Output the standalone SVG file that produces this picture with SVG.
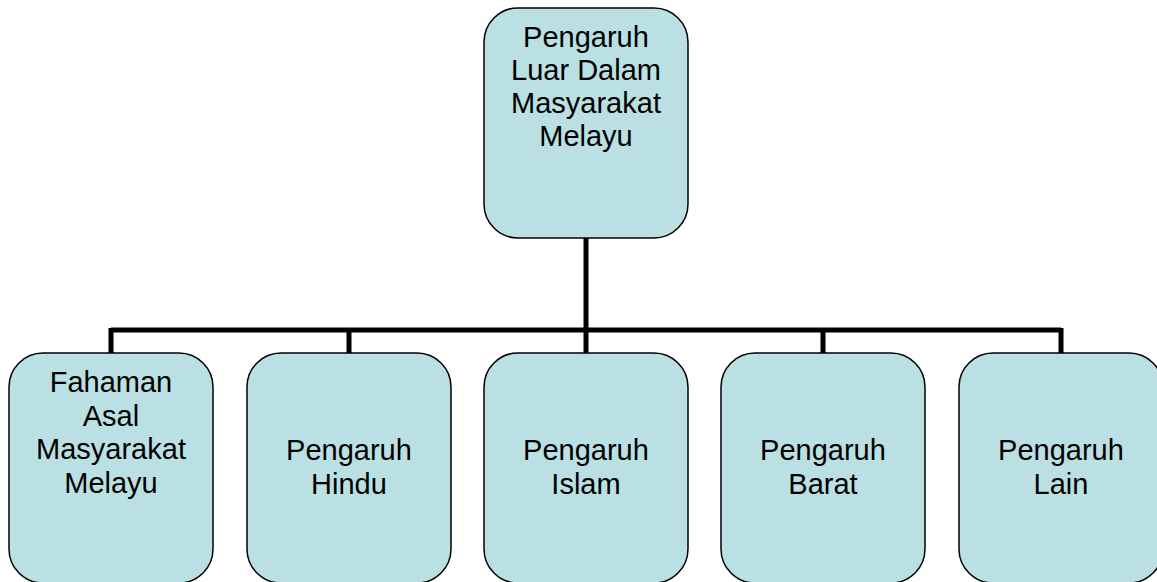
<svg xmlns="http://www.w3.org/2000/svg" width="1157" height="582" viewBox="0 0 1157 582">
<style>
.box{fill:#BAE0E3;stroke:#000;stroke-width:1.5}
.t{font-family:"Liberation Sans",Arial,sans-serif;font-size:29px;fill:#000;text-anchor:middle}
.c{fill:none;stroke:#000;stroke-width:5}
</style>
<rect width="1157" height="582" fill="#fff"/>
<g id="connectors">
<path class="c" d="M586 238V330M111 330H1061M111 328V353M349 328V353M586 328V353M823 328V353M1061 328V353"/>
</g>
<g id="root">
<rect class="box" x="484" y="8" width="204" height="230" rx="34"/>
<text class="t"><tspan x="586" y="47">Pengaruh</tspan><tspan x="586" y="80">Luar Dalam</tspan><tspan x="586" y="113">Masyarakat</tspan><tspan x="586" y="146">Melayu</tspan></text>
</g>
<g id="n1">
<rect class="box" x="9" y="353" width="204" height="230" rx="34"/>
<text class="t"><tspan x="111" y="392">Fahaman</tspan><tspan x="111" y="426">Asal</tspan><tspan x="111" y="459">Masyarakat</tspan><tspan x="111" y="493">Melayu</tspan></text>
</g>
<g id="n2">
<rect class="box" x="247" y="353" width="204" height="230" rx="34"/>
<text class="t"><tspan x="349" y="460">Pengaruh</tspan><tspan x="349" y="494">Hindu</tspan></text>
</g>
<g id="n3">
<rect class="box" x="484" y="353" width="204" height="230" rx="34"/>
<text class="t"><tspan x="586" y="460">Pengaruh</tspan><tspan x="586" y="494">Islam</tspan></text>
</g>
<g id="n4">
<rect class="box" x="721" y="353" width="204" height="230" rx="34"/>
<text class="t"><tspan x="823" y="460">Pengaruh</tspan><tspan x="823" y="494">Barat</tspan></text>
</g>
<g id="n5">
<rect class="box" x="959" y="353" width="204" height="230" rx="34"/>
<text class="t"><tspan x="1061" y="460">Pengaruh</tspan><tspan x="1061" y="494">Lain</tspan></text>
</g>
</svg>
